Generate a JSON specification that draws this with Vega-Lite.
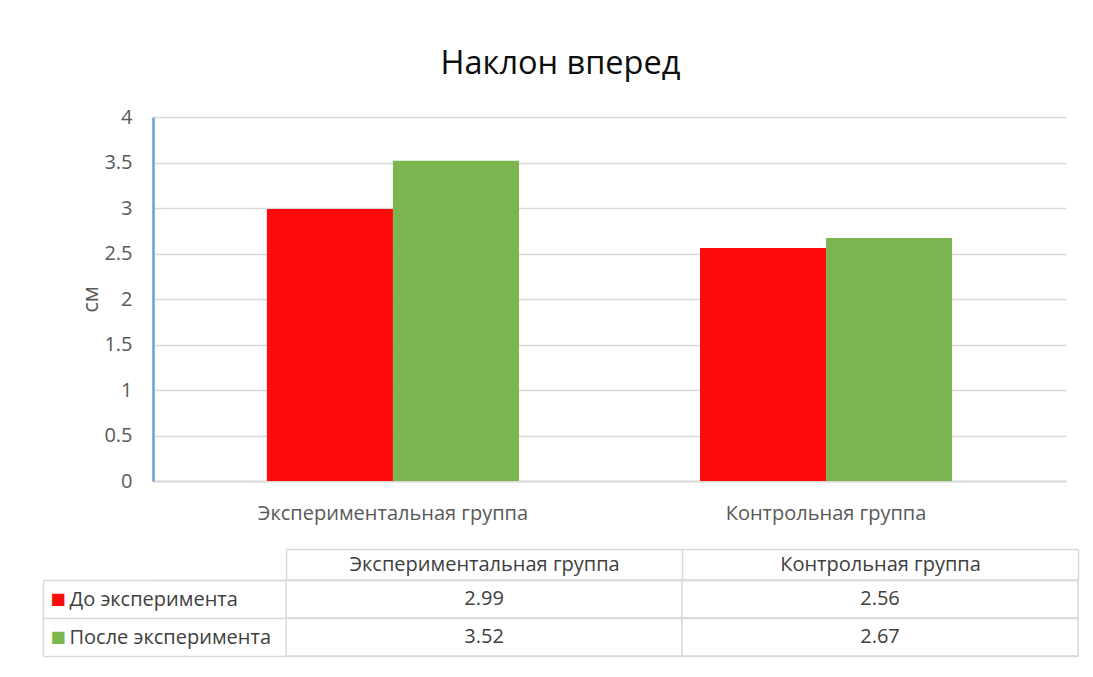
{
  "$schema": "https://vega.github.io/schema/vega-lite/v6.json",
  "background": "white",
  "padding": {"left": 42, "top": 47, "right": 10, "bottom": 10},
  "title": {"text": "Наклон вперед", "fontSize": 32.5, "font": "Open Sans", "fontWeight": "normal", "color": "#0d0d0d", "anchor": "middle", "offset": 27},
  "config": {"view": {"stroke": null}, "font": "Open Sans"},
  "datasets": {
    "d": [
      {"group": "Экспериментальная группа", "series": "До эксперимента", "value": 2.99},
      {"group": "Экспериментальная группа", "series": "После эксперимента", "value": 3.52},
      {"group": "Контрольная группа", "series": "До эксперимента", "value": 2.56},
      {"group": "Контрольная группа", "series": "После эксперимента", "value": 2.67}
    ]
  },
  "spacing": 25,
  "vconcat": [
    {
      "width": 913,
      "height": 364,
      "data": {"name": "d"},
      "mark": {"type": "bar"},
      "encoding": {
        "x": {
          "field": "group", "type": "nominal",
          "sort": ["Экспериментальная группа", "Контрольная группа"],
          "scale": {"paddingInner": 0.418, "paddingOuter": 0.263},
          "axis": {"title": null, "labelAngle": 0, "labelFontSize": 20, "labelColor": "#595959", "labelPadding": 22, "ticks": false, "domainColor": "#d9d9d9", "domainWidth": 2, "labelLimit": 400}
        },
        "xOffset": {"field": "series", "type": "nominal", "sort": ["До эксперимента", "После эксперимента"]},
        "y": {
          "field": "value", "type": "quantitative",
          "scale": {"domain": [0, 4]},
          "axis": {
            "title": "см", "values": [0, 0.5, 1, 1.5, 2, 2.5, 3, 3.5, 4], "format": "~g",
            "gridColor": "#d9d9d9", "gridWidth": 1.5, "domainColor": "#6a9fd6", "domainWidth": 2.5,
            "ticks": false, "labelPadding": 21, "labelFontSize": 20, "labelColor": "#595959",
            "titleFontSize": 22, "titleFontWeight": "normal", "titleColor": "#595959",
            "minExtent": 110, "titleX": -63, "titleY": 182, "titleBaseline": "middle", "titleAlign": "center", "titleAngle": -90
          }
        },
        "color": {
          "field": "series", "type": "nominal",
          "scale": {"domain": ["До эксперимента", "После эксперимента"], "range": ["#ff0a0a", "#7ab54f"]},
          "legend": null
        }
      }
    },
    {
      "width": 925,
      "height": 76,
      "data": {"name": "d"},
      "layer": [
        {
          "mark": {"type": "rect", "fill": "white", "stroke": "#d9d9d9", "strokeWidth": 1.5},
          "encoding": {
            "x": {
              "field": "group", "type": "nominal",
              "sort": ["Экспериментальная группа", "Контрольная группа"],
              "scale": {"paddingInner": 0, "paddingOuter": 0.168, "align": 1},
              "axis": {"orient": "top", "title": null, "labelAngle": 0, "labelFontSize": 20, "labelColor": "#404040", "labelLimit": 400,
                       "tickBand": "extent", "tickSize": 31, "tickColor": "#d9d9d9", "tickWidth": 1.5, "domain": true, "domainColor": "#d9d9d9", "domainWidth": 1.5,
                       "labelPadding": -15, "labelBaseline": "middle"}
            },
            "y": {
              "field": "series", "type": "nominal",
              "sort": ["До эксперимента", "После эксперимента"],
              "scale": {"paddingInner": 0, "paddingOuter": 0},
              "axis": {"orient": "left", "title": null, "labelFontSize": 20, "labelColor": "#404040", "labelLimit": 400,
                       "labelAlign": "left", "labelPadding": -26, "tickBand": "extent", "tickSize": 110, "tickColor": "#d9d9d9", "tickWidth": 1.5,
                       "grid": true, "gridColor": "#d9d9d9", "gridWidth": 1.5, "domain": false}
            }
          }
        },
        {
          "mark": {"type": "text", "fontSize": 20, "color": "#404040", "font": "Open Sans"},
          "encoding": {
            "x": {
              "field": "group", "type": "nominal",
              "sort": ["Экспериментальная группа", "Контрольная группа"],
              "axis": {"orient": "top", "offset": 31, "title": null, "labels": false, "ticks": false, "domain": true, "domainColor": "#d9d9d9", "domainWidth": 1.5, "domainDash": [0, 133, 1000, 0]}
            },
            "y": {
              "field": "series", "type": "nominal",
              "sort": ["До эксперимента", "После эксперимента"],
              "axis": {"orient": "left", "offset": 110, "title": null, "ticks": false, "tickSize": 0, "domain": true, "domainColor": "#d9d9d9", "domainWidth": 1.5,
                       "labelExpr": "'■'", "labelFont": "DejaVu Sans", "labelFontSize": 16, "labelAlign": "left", "labelPadding": -7,
                       "labelColor": {"condition": {"test": "datum.value === 'До эксперимента'", "value": "#ff0a0a"}, "value": "#7ab54f"}}
            },
            "text": {"field": "value", "type": "quantitative", "format": ".2f"}
          }
        }
      ],
      "resolve": {"axis": {"x": "independent", "y": "independent"}}
    }
  ]
}
